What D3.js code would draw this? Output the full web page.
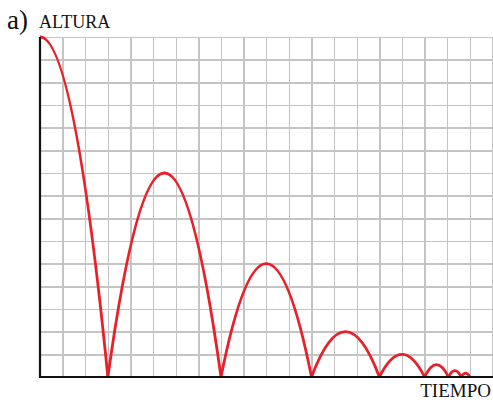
<!DOCTYPE html>
<html>
<head>
<meta charset="utf-8">
<script src="https://cdn.jsdelivr.net/npm/d3@7"></script>
<style>
  html, body { margin: 0; padding: 0; background: #fff; }
  svg { display: block; }
  .grid line { stroke: #c4c4c4; stroke-width: 1.4; shape-rendering: crispEdges; }
  .grid path { display: none; }
  .lbl { font-family: "Liberation Serif", "DejaVu Serif", serif; fill: #111; }
</style>
</head>
<body>
<div id="chart"></div>
<script>
'use strict';

// each bounce: where it leaves the ground, where it lands, and how high it gets (grid units)
const bounceStart  = [-3, 3, 8, 12, 15, 17, 18.05, 18.62];
const bounceEnd    = [3, 8, 12, 15, 17, 18.05, 18.62, 19.0];
const bounceHeight = [15, 9, 5, 2, 1, 0.55, 0.28, 0.17];

const gridCols = d3.range(0, 21);
const gridRows = d3.range(0, 16);

const labelPart = 'a)';
const labelY = 'ALTURA';
const labelX = 'TIEMPO';

const W = 493, H = 403;
const margin = { top: 37, right: 0, bottom: 26, left: 40 };

const x = d3.scaleLinear().domain([0, 20]).range([margin.left, W - margin.right - 0.5]);
const y = d3.scaleLinear().domain([0, 15]).range([H - margin.bottom, margin.top]);

const svg = d3.select('#chart').append('svg')
  .attr('width', W)
  .attr('height', H);

// grid lines drawn with the axis generators
svg.append('g')
  .attr('class', 'grid')
  .attr('transform', `translate(0, ${y(0)})`)
  .call(d3.axisBottom(x).tickValues(gridCols).tickSize(-(y(0) - y(15))).tickFormat(''));

svg.append('g')
  .attr('class', 'grid')
  .attr('transform', `translate(${x(0)}, 0)`)
  .call(d3.axisLeft(y).tickValues(gridRows).tickSize(-(x(20) - x(0))).tickFormat(''));

// clip so the first (half) bounce starts at the vertical axis
svg.append('clipPath').attr('id', 'plot')
  .append('rect')
  .attr('x', x(0)).attr('y', 0)
  .attr('width', W - x(0)).attr('height', H);

// each bounce is a parabola: quadratic bezier with control at twice the peak height
const bounces = bounceStart.map((s, i) => ({ s, e: bounceEnd[i], h: bounceHeight[i] }));

svg.append('g')
  .attr('clip-path', 'url(#plot)')
  .selectAll('path')
  .data(bounces)
  .join('path')
    .attr('d', d => {
      const p = d3.path();
      p.moveTo(x(d.s), y(0));
      p.quadraticCurveTo(x((d.s + d.e) / 2), y(2 * d.h), x(d.e), y(0));
      return p.toString();
    })
    .attr('fill', 'none')
    .attr('stroke', '#e8202a')
    .attr('stroke-width', 2.8)
    .attr('stroke-linejoin', 'round');

// axes
svg.append('line')
  .attr('x1', x(0)).attr('x2', W)
  .attr('y1', y(0)).attr('y2', y(0))
  .attr('stroke', '#111').attr('stroke-width', 2.2);

svg.append('line')
  .attr('x1', x(0)).attr('x2', x(0))
  .attr('y1', y(15)).attr('y2', y(0) + 1)
  .attr('stroke', '#111').attr('stroke-width', 2.2);

// labels
svg.append('text').attr('class', 'lbl')
  .attr('x', 7).attr('y', 29)
  .attr('font-size', 27)
  .text(labelPart);

svg.append('text').attr('class', 'lbl')
  .attr('x', 39).attr('y', 28)
  .attr('font-size', 18)
  .text(labelY);

svg.append('text').attr('class', 'lbl')
  .attr('x', 491).attr('y', 397)
  .attr('text-anchor', 'end')
  .attr('font-size', 19)
  .text(labelX);
</script>
</body>
</html>
